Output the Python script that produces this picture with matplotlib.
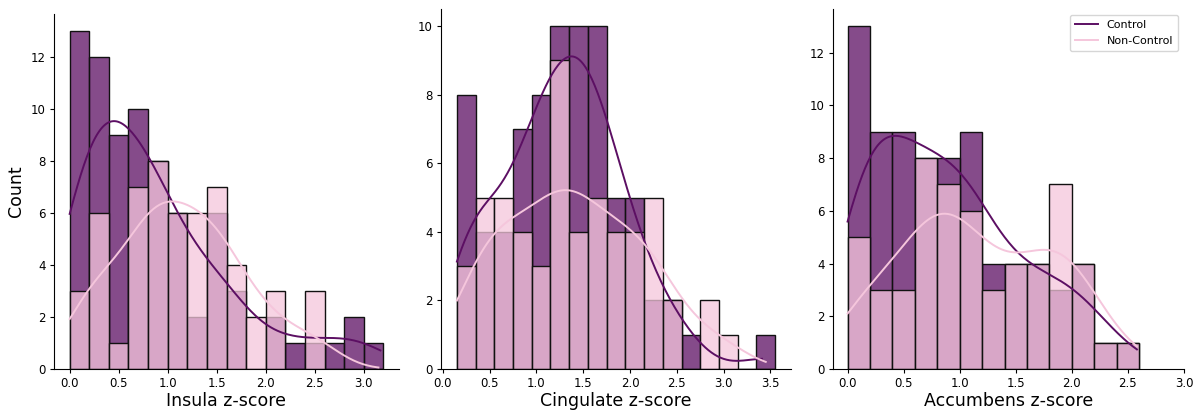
import numpy as np
import matplotlib.pyplot as plt
from matplotlib.colors import to_rgba
from matplotlib.lines import Line2D


# bin counts per region, bin width 0.2
insula_edges0 = 0.0
insula_control = [13, 12, 9, 10, 8, 6, 2, 6, 3, 0, 2, 1, 1, 1, 2, 1]
insula_noncontrol = [3, 6, 1, 7, 8, 6, 6, 7, 4, 2, 3, 0, 3, 0, 0, 0]

cingulate_edges0 = 0.15
cingulate_control = [8, 4, 4, 7, 8, 10, 10, 10, 5, 5, 2, 2, 1, 0, 0, 0, 1]
cingulate_noncontrol = [3, 5, 5, 4, 3, 9, 4, 5, 4, 4, 5, 2, 0, 2, 1, 0, 0]

accumbens_edges0 = 0.0
accumbens_control = [13, 9, 9, 8, 8, 9, 4, 4, 4, 3, 4, 1, 1]
accumbens_noncontrol = [5, 3, 3, 8, 7, 6, 3, 4, 4, 7, 4, 1, 1]

# span of the raw scores in each group (kde is cut at the data range)
insula_range = [(0.0, 3.17), (0.0, 3.15)]
cingulate_range = [(0.15, 3.41), (0.15, 3.45)]
accumbens_range = [(0.0, 2.58), (0.0, 2.58)]

labels = ["Insula z-score", "Cingulate z-score", "Accumbens z-score"]
groups = ["Control", "Non-Control"]

binw = 0.2
c_dark = "#5c0f63"
c_pink = "#f5c6dc"


def kde_curve(centers, counts, lo, hi, bw_adjust=1.0):
    w = np.asarray(counts, float)
    n = w.sum()
    mu = np.sum(w*centers)/n
    sd = np.sqrt(np.sum(w*(centers - mu)**2)/(n - 1))
    bw = sd * n**(-1/5) * bw_adjust
    xs = np.linspace(lo, hi, 200)
    dens = np.zeros_like(xs)
    for c, k in zip(centers, w):
        dens += k*np.exp(-0.5*((xs - c)/bw)**2)
    dens /= (n*bw*np.sqrt(2*np.pi))
    # scale density to counts
    return xs, dens*n*binw


panels = [
    (insula_edges0, insula_control, insula_noncontrol, insula_range),
    (cingulate_edges0, cingulate_control, cingulate_noncontrol, cingulate_range),
    (accumbens_edges0, accumbens_control, accumbens_noncontrol, accumbens_range),
]

fig = plt.figure(figsize=(11.97, 4.12), dpi=100)
W, H = 1197, 412
# axes boxes in pixels: left, right, top, bottom
boxes = [(54, 399, 14, 369), (441, 791, 9, 369), (833, 1184, 9, 369)]

axes = []
for (l, r, t, b) in boxes:
    axes.append(fig.add_axes([l/W, 1 - b/H, (r - l)/W, (b - t)/H]))

for i, (e0, ctrl, nonc, rng) in enumerate(panels):
    ax = axes[i]
    nb = len(ctrl)
    left = e0 + binw*np.arange(nb)
    centers = left + binw/2

    ax.bar(left, ctrl, width=binw, align="edge", color=to_rgba(c_dark, 0.75),
           edgecolor="#111111", linewidth=1.0)
    ax.bar(left, nonc, width=binw, align="edge", color=to_rgba(c_pink, 0.75),
           edgecolor="#111111", linewidth=1.0)

    xs, ys = kde_curve(centers, ctrl, *rng[0])
    ax.plot(xs, ys, color=c_dark, lw=1.4)
    xs, ys = kde_curve(centers, nonc, *rng[1])
    ax.plot(xs, ys, color=c_pink, lw=1.4)

    ax.spines["top"].set_visible(False)
    ax.spines["right"].set_visible(False)
    ax.spines["left"].set_linewidth(0.8)
    ax.spines["bottom"].set_linewidth(0.8)
    ax.tick_params(labelsize=8.5, width=0.8, length=3, pad=3)
    ax.set_xlabel(labels[i], fontsize=12.5, labelpad=1)

    edges_hi = e0 + binw*nb
    m = 0.05*(edges_hi - e0)
    ax.set_xlim(e0 - m, edges_hi + m)
    ax.set_ylim(0, max(max(ctrl), max(nonc))*1.05)

axes[0].set_ylabel("Count", fontsize=12.5)
axes[2].set_xlim(-0.13, 3.0)

handles = [Line2D([], [], color=c_dark, lw=1.4), Line2D([], [], color=c_pink, lw=1.4)]
axes[2].legend(handles, groups, loc="upper right", fontsize=8, borderpad=0.5)

plt.savefig("out.png", dpi=100)
